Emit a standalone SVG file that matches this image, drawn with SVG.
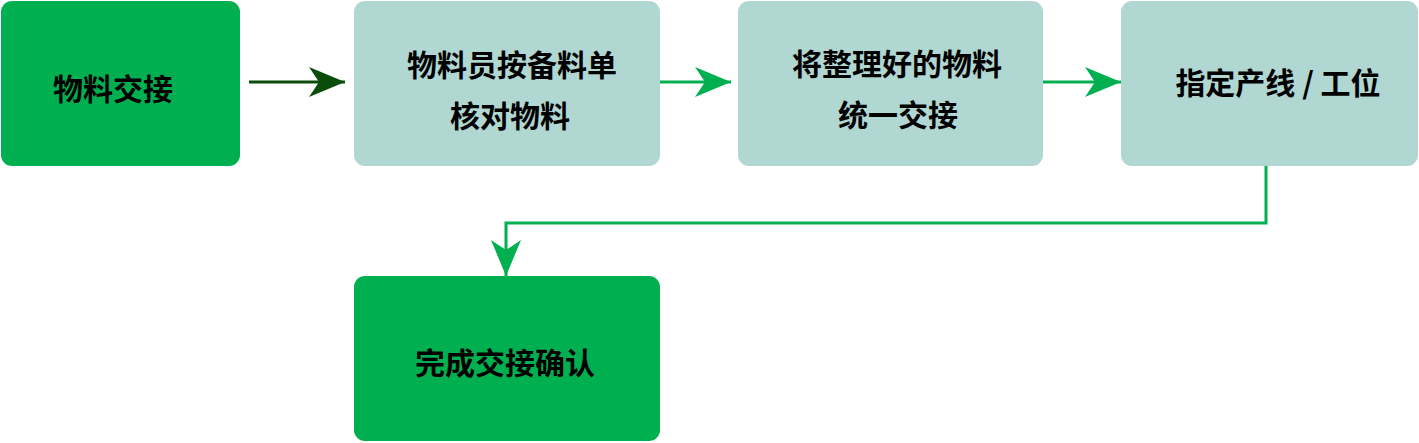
<svg xmlns="http://www.w3.org/2000/svg" width="1419" height="443" viewBox="0 0 1419 443">
<defs>
<style>
.g{fill:#00b050}
.t{fill:#b1d7d2}
text{font-family:"Noto Sans CJK SC","Liberation Sans",sans-serif;font-weight:bold;font-size:30px;fill:#000;text-anchor:middle;dominant-baseline:central}
.c{fill:none;stroke:#00b050;stroke-width:3}
</style>
<marker id="ag" viewBox="0 0 36 30" refX="36" refY="15" markerWidth="36" markerHeight="30" markerUnits="userSpaceOnUse" orient="auto">
<path d="M0,0 L36,15 L0,30 L10,15 Z" fill="#00b050"/>
</marker>
<marker id="ad" viewBox="0 0 36 30" refX="36" refY="15" markerWidth="36" markerHeight="30" markerUnits="userSpaceOnUse" orient="auto">
<path d="M0,0 L36,15 L0,30 L10,15 Z" fill="#0a4d0a"/>
</marker>
</defs>
<g id="connectors">
<path d="M249,82 H345" fill="none" stroke="#0a4d0a" stroke-width="3" marker-end="url(#ad)"/>
<path class="c" d="M660,82 H731" marker-end="url(#ag)"/>
<path class="c" d="M1043,82 H1121" marker-end="url(#ag)"/>
<path class="c" d="M1266,166 V223 H506 V276" marker-end="url(#ag)"/>
</g>
<g id="n1"><rect class="g" x="1" y="1" width="239" height="165" rx="11"/><text x="113" y="87">物料交接</text></g>
<g id="n2"><rect class="t" x="354" y="1" width="306" height="165" rx="11"/><text x="512" y="63">物料员按备料单</text><text x="510" y="114">核对物料</text></g>
<g id="n3"><rect class="t" x="738" y="1" width="305" height="165" rx="11"/><text x="897" y="62">将整理好的物料</text><text x="898" y="113">统一交接</text></g>
<g id="n4"><rect class="t" x="1121" y="1" width="297" height="165" rx="11"/><text x="1278" y="81">指定产线 / 工位</text></g>
<g id="n5"><rect class="g" x="354" y="276" width="306" height="165" rx="11"/><text x="505" y="361">完成交接确认</text></g>
</svg>
